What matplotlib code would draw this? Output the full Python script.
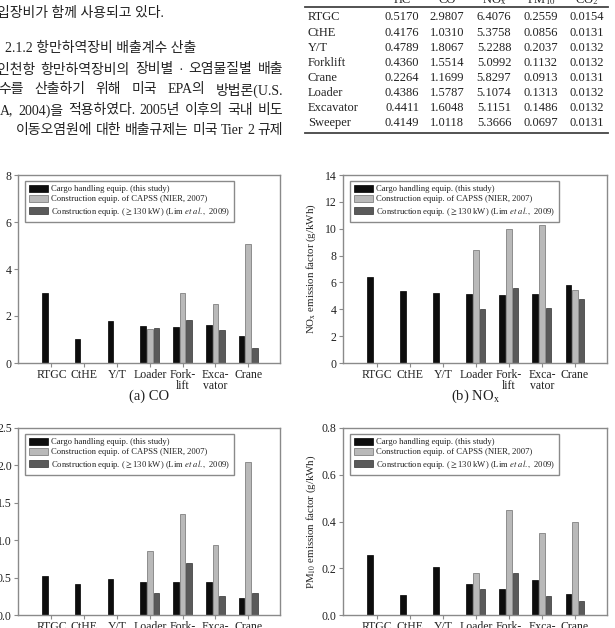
import numpy as np
import matplotlib
matplotlib.use('Agg')
import matplotlib.pyplot as plt
from matplotlib.ticker import FormatStrFormatter

plt.rcParams['font.family'] = ['Liberation Serif', 'Noto Sans CJK KR', 'DejaVu Sans']
plt.rcParams['mathtext.fontset'] = 'stix'

# ---- data ----
categories = ['RTGC', 'CtHE', 'Y/T', 'Loader', 'Fork-\nlift', 'Exca-\nvator', 'Crane']
series_names = ['Cargo handling equip. (this study)',
                'Construction equip. of CAPSS (NIER, 2007)',
                r'Construction equip. ($\geq$130 kW) (Lim $\it{et\ al.,}$ 2009)']

nan = np.nan
co_study = [2.9807, 1.0310, 1.8067, 1.5787, 1.5514, 1.6048, 1.1699]
co_capss = [nan, nan, nan, 1.45, 3.00, 2.52, 5.05]
co_lim = [nan, nan, nan, 1.48, 1.83, 1.40, 0.63]

nox_study = [6.4076, 5.3758, 5.2288, 5.1074, 5.0992, 5.1151, 5.8297]
nox_capss = [nan, nan, nan, 8.40, 9.95, 10.25, 5.45]
nox_lim = [nan, nan, nan, 4.05, 5.55, 4.10, 4.75]

hc_study = [0.5170, 0.4176, 0.4789, 0.4386, 0.4360, 0.4411, 0.2264]
hc_capss = [nan, nan, nan, 0.85, 1.35, 0.94, 2.05]
hc_lim = [nan, nan, nan, 0.29, 0.70, 0.25, 0.29]

pm_study = [0.2559, 0.0856, 0.2037, 0.1313, 0.1132, 0.1486, 0.0913]
pm_capss = [nan, nan, nan, 0.18, 0.45, 0.35, 0.40]
pm_lim = [nan, nan, nan, 0.11, 0.18, 0.08, 0.06]

# table (top right)
table_cols = ['HC', 'CO', 'NO$_\\mathrm{x}$', 'PM$_{10}$', 'CO$_2$']
table_rows = ['RTGC', 'CtHE', 'Y/T', 'Forklift', 'Crane', 'Loader', 'Excavator', 'Sweeper']
table_vals = [
    ['0.5170', '2.9807', '6.4076', '0.2559', '0.0154'],
    ['0.4176', '1.0310', '5.3758', '0.0856', '0.0131'],
    ['0.4789', '1.8067', '5.2288', '0.2037', '0.0132'],
    ['0.4360', '1.5514', '5.0992', '0.1132', '0.0132'],
    ['0.2264', '1.1699', '5.8297', '0.0913', '0.0131'],
    ['0.4386', '1.5787', '5.1074', '0.1313', '0.0132'],
    ['0.4411', '1.6048', '5.1151', '0.1486', '0.0132'],
    ['0.4149', '1.0118', '5.3666', '0.0697', '0.0131'],
]

# body text (top left)
body_lines = [
    '입장비가 함께 사용되고 있다.',
    '2.1.2 항만하역장비 배출계수 산출',
    '인천항 항만하역장비의 장비별 · 오염물질별 배출',
    '수를 산출하기 위해 미국 EPA의 방법론(U.S.',
    'A, 2004)을 적용하였다. 2005년 이후의 국내 비도',
    '이동오염원에 대한 배출규제는 미국 Tier 2 규제',
]

W, H = 615, 628
fig = plt.figure(figsize=(W / 100, H / 100), dpi=100)
fig.patch.set_facecolor('white')


def px_axes(x0, y0, x1, y1):
    return fig.add_axes([x0 / W, 1 - y1 / H, (x1 - x0) / W, (y1 - y0) / H])


# ---- body text, justified ----
renderer = fig.canvas.get_renderer()
line_y = [13, 48, 70, 90, 110.5, 130.5]
line_x0 = [-3, 5, -3, -2, 0, 16]
justify = [False, False, True, True, True, True]
right_edge = 283
body_size = 10
for txt, y, x0, jst in zip(body_lines, line_y, line_x0, justify):
    if not jst:
        fig.text(x0 / W, 1 - y / H, txt, fontsize=body_size, va='center', ha='left',
                 color='#222222')
        continue
    words = txt.split(' ')
    items = [fig.text(0, 1 - y / H, w, fontsize=body_size, va='center', ha='left',
                      color='#222222') for w in words]
    widths = [t.get_window_extent(renderer).width for t in items]
    gap = (right_edge - x0 - sum(widths)) / (len(words) - 1)
    x = x0
    for t, wd in zip(items, widths):
        t.set_x(x / W)
        x += wd + gap

# ---- table ----
col_x = [402, 447, 494, 541, 587]
row_y = [17, 33, 48, 63, 78, 93, 108, 123]
fig.add_artist(plt.Line2D([305 / W, 608 / W], [1 - 7 / H, 1 - 7 / H], color='#444444', lw=1.3))
fig.add_artist(plt.Line2D([305 / W, 608 / W], [1 - 133 / H, 1 - 133 / H], color='#444444', lw=1.3))
for cx, name in zip(col_x, table_cols):
    fig.text(cx / W, 1 - 3 / H, name, fontsize=9, ha='center', va='baseline', color='#222222')
for ry, rname, vals in zip(row_y, table_rows, table_vals):
    fig.text(308 / W, 1 - ry / H, rname, fontsize=9, ha='left', va='center', color='#222222')
    for cx, v in zip(col_x, vals):
        fig.text(cx / W, 1 - ry / H, v, fontsize=9, ha='center', va='center', color='#222222')

# ---- bar panels ----
colors = ['#0d0d0d', '#b9b9b9', '#5a5a5a']
edges = ['#000000', '#6e6e6e', '#333333']
spine_c = '#8a8a8a'


def panel(ax, study, capss, lim, ymax, step, fmt, caption=None, ylabel=None):
    x = np.arange(len(categories))
    for k, (vals, c, e, lab) in enumerate(zip([study, capss, lim], colors, edges, series_names)):
        ax.bar(x + (k - 1) * 0.2, vals, width=0.17, color=c, edgecolor=e, linewidth=0.5, label=lab)
    ax.set_xlim(-1.02, 6.97)
    ax.set_ylim(0, ymax)
    ax.set_yticks(np.arange(0, ymax + step / 2, step))
    ax.yaxis.set_major_formatter(FormatStrFormatter(fmt))
    ax.set_xticks(x)
    ax.set_xticklabels(categories, linespacing=0.85)
    ax.tick_params(direction='out', length=3, width=0.8, color=spine_c,
                   labelsize=8.5, labelcolor='#222222', pad=1.5)
    for s in ax.spines.values():
        s.set_color(spine_c)
        s.set_linewidth(1.0)
    leg = ax.legend(loc='upper left', bbox_to_anchor=(7 / 262, 1 - 6 / 188), borderaxespad=0,
                    fontsize=6.2, frameon=True, fancybox=False, framealpha=1,
                    handlelength=2.2, handleheight=0.85, handletextpad=0.4,
                    labelspacing=0.18, borderpad=0.45)
    leg.get_frame().set_edgecolor(spine_c)
    leg.get_frame().set_linewidth(1.0)
    for t in leg.get_texts():
        t.set_color('#222222')
    if caption:
        ax.text(0.5, -0.175, caption, transform=ax.transAxes, ha='center', va='center',
                fontsize=10.5, color='#222222')
    if ylabel:
        ax.set_ylabel(ylabel, fontsize=7.8, color='#222222')
        ax.yaxis.set_label_coords(-0.095, 0.5)


ax_a = px_axes(18, 175, 280, 363)
panel(ax_a, co_study, co_capss, co_lim, 8, 2, '%d', '(a) CO')

ax_b = px_axes(343, 175, 607, 363)
panel(ax_b, nox_study, nox_capss, nox_lim, 14, 2, '%d', '(b) NO$_\\mathrm{x}$',
      'NO$_\\mathrm{x}$ emission factor (g/kWh)')

ax_c = px_axes(18, 428, 280, 615)
panel(ax_c, hc_study, hc_capss, hc_lim, 2.5, 0.5, '%.1f')

ax_d = px_axes(343, 428, 607, 615)
panel(ax_d, pm_study, pm_capss, pm_lim, 0.8, 0.2, '%.1f', None,
      'PM$_{10}$ emission factor (g/kWh)')

fig.savefig('out.png', dpi=100)
